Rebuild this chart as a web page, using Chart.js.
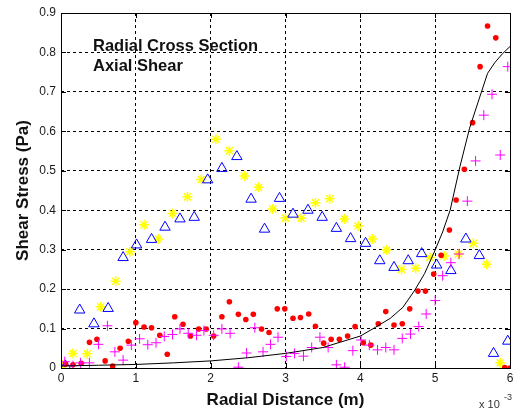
<!DOCTYPE html>
<html>
<head>
<meta charset="utf-8">
<title>Shear Stress</title>
<script src="https://cdn.jsdelivr.net/npm/chart.js@4/dist/chart.umd.min.js"></script>
<style>
  html, body { margin: 0; padding: 0; background: #fff; }
  canvas { display: block; }
</style>
</head>
<body>
<canvas id="shearChart" width="517" height="414"></canvas>
<script>
// radial distance in units of 1e-3 m, shear stress in Pa
const starX = [0.02, 0.16, 0.35, 0.53, 0.73, 0.92, 1.11, 1.30, 1.49, 1.69, 1.875, 2.07, 2.25, 2.45, 2.64, 2.83, 3.00, 3.21, 3.40, 3.59, 3.79, 3.97, 4.16, 4.35, 4.55, 4.74, 4.93, 5.12, 5.31, 5.51, 5.69, 5.87];
const starY = [0.008, 0.037, 0.036, 0.155, 0.22, 0.295, 0.363, 0.327, 0.392, 0.434, 0.478, 0.58, 0.551, 0.487, 0.458, 0.403, 0.38, 0.38, 0.419, 0.429, 0.378, 0.36, 0.327, 0.299, 0.25, 0.253, 0.28, 0.284, 0.289, 0.316, 0.263, 0.013];

const triX = [0.06, 0.25, 0.44, 0.63, 0.83, 1.01, 1.21, 1.39, 1.59, 1.78, 1.96, 2.15, 2.35, 2.54, 2.72, 2.92, 3.10, 3.30, 3.49, 3.68, 3.87, 4.07, 4.26, 4.45, 4.64, 4.82, 5.02, 5.21, 5.41, 5.59, 5.78, 5.97];
const triY = [0.005, 0.147, 0.112, 0.151, 0.28, 0.312, 0.326, 0.357, 0.378, 0.382, 0.477, 0.506, 0.536, 0.428, 0.352, 0.43, 0.39, 0.40, 0.382, 0.354, 0.328, 0.316, 0.272, 0.255, 0.272, 0.29, 0.261, 0.247, 0.327, 0.285, 0.037, 0.068];

const dotX = [0.06, 0.16, 0.27, 0.38, 0.48, 0.59, 0.69, 0.79, 0.90, 1.00, 1.11, 1.21, 1.32, 1.42, 1.52, 1.63, 1.73, 1.84, 1.94, 2.04, 2.15, 2.25, 2.37, 2.47, 2.57, 2.68, 2.78, 2.89, 2.99, 3.10, 3.20, 3.31, 3.40, 3.51, 3.61, 3.72, 3.83, 3.93, 4.04, 4.14, 4.24, 4.34, 4.45, 4.56, 4.66, 4.77, 4.87, 4.98, 5.08, 5.19, 5.28, 5.39, 5.50, 5.60, 5.70, 5.81, 5.93, 6.00];
const dotY = [0.01, 0.008, 0.012, 0.065, 0.073, 0.018, 0.005, 0.05, 0.068, 0.115, 0.104, 0.102, 0.083, 0.035, 0.13, 0.111, 0.081, 0.099, 0.099, 0.081, 0.13, 0.168, 0.136, 0.123, 0.136, 0.099, 0.09, 0.15, 0.15, 0.126, 0.128, 0.137, 0.106, 0.063, 0.073, 0.073, 0.081, 0.105, 0.064, 0.058, 0.112, 0.143, 0.109, 0.112, 0.15, 0.195, 0.195, 0.238, 0.286, 0.35, 0.426, 0.504, 0.622, 0.764, 0.867, 0.837, 0.001, 0.0];

const plusX = [0.05, 0.16, 0.26, 0.38, 0.50, 0.62, 0.72, 0.83, 0.94, 1.05, 1.16, 1.27, 1.38, 1.49, 1.59, 1.70, 1.81, 1.91, 2.04, 2.15, 2.26, 2.37, 2.48, 2.59, 2.70, 2.80, 2.90, 3.01, 3.12, 3.24, 3.35, 3.46, 3.57, 3.68, 3.79, 3.90, 4.01, 4.12, 4.23, 4.34, 4.45, 4.56, 4.67, 4.78, 4.88, 5.00, 5.10, 5.21, 5.32, 5.43, 5.54, 5.65, 5.76, 5.87, 5.97];
const plusY = [0.016, 0.006, 0.013, 0.013, 0.06, 0.107, 0.041, 0.02, 0.058, 0.074, 0.059, 0.064, 0.08, 0.085, 0.099, 0.088, 0.083, 0.095, 0.083, 0.099, 0.088, 0.002, 0.038, 0.102, 0.041, 0.06, 0.078, 0.029, 0.037, 0.03, 0.052, 0.078, 0.052, 0.008, 0.002, 0.044, 0.071, 0.058, 0.046, 0.052, 0.046, 0.075, 0.086, 0.105, 0.137, 0.171, 0.234, 0.267, 0.289, 0.423, 0.525, 0.641, 0.694, 0.54, 0.764];

const curveX = [0, 0.5, 1.0, 1.5, 2.0, 2.5, 3.0, 3.5, 4.0, 4.2, 4.4, 4.57, 4.73, 4.86, 5.0, 5.1, 5.2, 5.33, 5.46, 5.57, 5.70, 5.80, 5.90, 6.0];
const curveY = [0.005, 0.007, 0.009, 0.013, 0.018, 0.026, 0.037, 0.052, 0.081, 0.103, 0.126, 0.154, 0.198, 0.24, 0.299, 0.345, 0.40, 0.51, 0.608, 0.672, 0.747, 0.775, 0.797, 0.815];

const xTicks = [0, 1, 2, 3, 4, 5, 6];
const yTicks = [0, 0.1, 0.2, 0.3, 0.4, 0.5, 0.6, 0.7, 0.8, 0.9];

const pts = (xs, ys) => xs.map((x, i) => ({ x: x, y: ys[i] }));

const FONT = "'Liberation Sans', Arial, sans-serif";

// box, inward ticks and the text labels on the axes
const framePlugin = {
  id: 'frame',
  afterDraw(chart) {
    const { ctx, chartArea: a, scales } = chart;
    ctx.save();
    ctx.strokeStyle = '#000';
    ctx.lineWidth = 1;
    ctx.setLineDash([]);
    ctx.beginPath();
    xTicks.forEach(v => {
      const px = Math.round(scales.x.getPixelForValue(v)) + 0.5;
      ctx.moveTo(px, a.bottom); ctx.lineTo(px, a.bottom - 5);
      ctx.moveTo(px, a.top); ctx.lineTo(px, a.top + 5);
    });
    yTicks.forEach(v => {
      const py = Math.round(scales.y.getPixelForValue(v)) + 0.5;
      ctx.moveTo(a.left, py); ctx.lineTo(a.left + 5, py);
      ctx.moveTo(a.right, py); ctx.lineTo(a.right - 5, py);
    });
    ctx.stroke();
    ctx.strokeRect(Math.round(a.left) + 0.5, Math.round(a.top) + 0.5,
                   Math.round(a.right - a.left), Math.round(a.bottom - a.top));

    ctx.fillStyle = '#111';
    ctx.textBaseline = 'middle';
    ctx.textAlign = 'left';
    ctx.font = 'bold 16.5px ' + FONT;
    ctx.fillText('Radial Cross Section', 93, 46);
    ctx.fillText('Axial Shear', 93, 66);

    ctx.fillStyle = '#333';
    ctx.font = '11px ' + FONT;
    ctx.fillText('x 10', 479, 405);
    ctx.font = '9px ' + FONT;
    ctx.fillText('-3', 504, 398);
    ctx.restore();
  }
};

const ctx = document.getElementById('shearChart').getContext('2d');

new Chart(ctx, {
  type: 'scatter',
  data: {
    datasets: [
      {
        label: 'curve',
        type: 'line',
        data: pts(curveX, curveY),
        borderColor: '#000',
        borderWidth: 1,
        pointRadius: 0,
        tension: 0,
        fill: false,
        order: 0
      },
      {
        label: 'axial',
        data: pts(plusX, plusY),
        pointStyle: 'cross',
        pointRadius: 5,
        borderColor: '#ff00ff',
        borderWidth: 1,
        order: 1
      },
      {
        label: 'radial',
        data: pts(dotX, dotY),
        pointStyle: 'circle',
        pointRadius: 2.8,
        backgroundColor: '#ff0000',
        borderColor: '#ff0000',
        borderWidth: 0,
        order: 2
      },
      {
        label: 'triangles',
        data: pts(triX, triY),
        pointStyle: 'triangle',
        pointRadius: 6,
        backgroundColor: 'rgba(0,0,0,0)',
        borderColor: '#0000ff',
        borderWidth: 1,
        order: 3
      },
      {
        label: 'stars',
        data: pts(starX, starY),
        pointStyle: 'star',
        pointRadius: 5,
        borderColor: '#ffff00',
        borderWidth: 1.5,
        order: 4
      }
    ]
  },
  options: {
    responsive: false,
    animation: false,
    devicePixelRatio: 1,
    layout: { padding: { top: 13, right: 4, left: 0, bottom: 0 } },
    plugins: {
      legend: { display: false },
      tooltip: { enabled: false }
    },
    scales: {
      x: {
        type: 'linear',
        min: 0,
        max: 6,
        afterFit: s => { s.height = 46; },
        afterBuildTicks: s => { s.ticks = xTicks.map(v => ({ value: v })); },
        ticks: {
          color: '#1a1a1a',
          font: { family: FONT, size: 12 },
          padding: 3,
          maxRotation: 0,
          callback: v => String(v)
        },
        grid: { color: '#000', lineWidth: 1, drawTicks: false },
        border: { display: false, dash: [3, 3] },
        title: {
          display: true,
          text: 'Radial Distance (m)',
          color: '#111',
          font: { family: FONT, size: 17, weight: 'bold' },
          padding: { top: 0, bottom: 3 }
        }
      },
      y: {
        type: 'linear',
        min: 0,
        max: 0.9,
        afterFit: s => { s.width = 61; },
        afterBuildTicks: s => { s.ticks = yTicks.map(v => ({ value: v })); },
        ticks: {
          color: '#1a1a1a',
          font: { family: FONT, size: 12 },
          padding: 5,
          callback: v => (v === 0 ? '0' : v.toFixed(1))
        },
        grid: { color: '#000', lineWidth: 1, drawTicks: false },
        border: { display: false, dash: [3, 3] },
        title: {
          display: true,
          text: 'Shear Stress (Pa)',
          color: '#111',
          font: { family: FONT, size: 17, weight: 'bold' },
          padding: { top: 13, bottom: 0 }
        }
      }
    }
  },
  plugins: [framePlugin]
});
</script>
</body>
</html>
